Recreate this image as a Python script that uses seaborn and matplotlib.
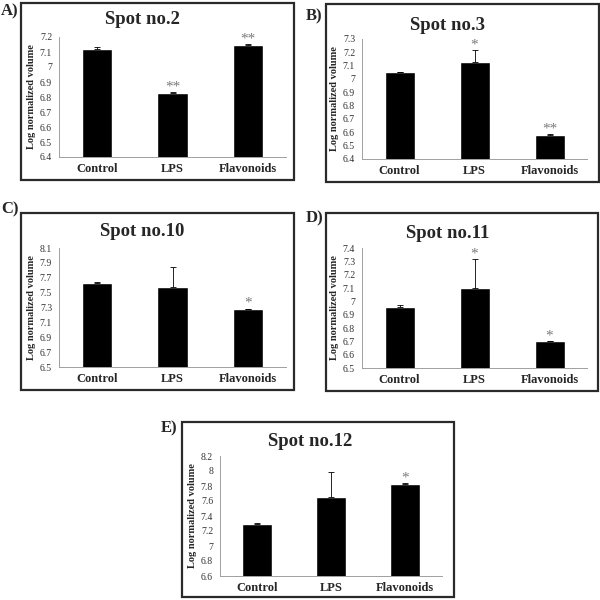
#!/usr/bin/env python3
"""
Five bar panels (spot no.2, 3, 10, 11, 12) - log normalized volume
for Control / LPS / Flavonoids, Excel-like look with framed panels.
"""

import matplotlib
matplotlib.use('Agg')
import matplotlib.pyplot as plt
from matplotlib.patches import Rectangle
from matplotlib.ticker import FuncFormatter, FixedLocator
import numpy as np
import seaborn as sns

groups = ['Control', 'LPS', 'Flavonoids']

spot2_mean = [7.12, 6.83, 7.15]
spot2_err = [0.015, 0.003, 0.005]
spot2_sig = ['', '**', '**']

spot3_mean = [7.05, 7.13, 6.58]
spot3_err = [0.003, 0.09, 0.004]
spot3_sig = ['', '*', '**']

spot10_mean = [7.63, 7.57, 7.28]
spot10_err = [0.01, 0.27, 0.005]
spot10_sig = ['', '', '*']

spot11_mean = [6.96, 7.10, 6.70]
spot11_err = [0.01, 0.22, 0.005]
spot11_sig = ['', '*', '*']

spot12_mean = [7.29, 7.65, 7.83]
spot12_err = [0.02, 0.34, 0.005]
spot12_sig = ['', '', '*']

titles = ['Spot no.2', 'Spot no.3', 'Spot no.10', 'Spot no.11', 'Spot no.12']
letters = ['A)', 'B)', 'C)', 'D)', 'E)']
y_ranges = [(6.4, 7.2, 0.1), (6.4, 7.3, 0.1), (6.5, 8.1, 0.2),
            (6.5, 7.4, 0.1), (6.6, 8.2, 0.2)]

W = H = 600.0


def px_axes(fig, x0, y0, x1, y1):
    return fig.add_axes([x0 / W, 1 - y1 / H, (x1 - x0) / W, (y1 - y0) / H])


def px_frame(fig, x0, y0, x1, y1):
    fig.patches.append(Rectangle((x0 / W, 1 - y1 / H), (x1 - x0) / W, (y1 - y0) / H,
                                 transform=fig.transFigure, fill=False,
                                 edgecolor='#2a2a2a', linewidth=1.6))


def draw_panel(ax, means, errs, sig, yr):
    lo, hi, step = yr
    sns.barplot(x=groups, y=means, color='black', saturation=1, width=0.4,
                ax=ax, errorbar=None)
    # Excel style: only the plus half of the error bar
    ax.errorbar(range(3), means, yerr=[[0, 0, 0], errs], fmt='none',
                ecolor='black', elinewidth=0.6, capsize=2, capthick=0.6)
    for i, s in enumerate(sig):
        if s:
            ax.annotate(s, (i, means[i] + errs[i]), xytext=(0, -1),
                        textcoords='offset points', ha='center', va='bottom',
                        fontsize=11, color='#7a7a7a')
    ax.set_ylim(lo, hi)
    ax.set_xlim(-0.5, 2.5)
    ticks = np.round(np.arange(lo, hi + step / 2, step), 2)
    ax.yaxis.set_major_locator(FixedLocator(ticks))
    ax.yaxis.set_major_formatter(FuncFormatter(lambda v, p: '{:g}'.format(round(v, 2))))
    ax.xaxis.set_minor_locator(FixedLocator([-0.5, 0.5, 1.5, 2.5]))
    ax.tick_params(axis='y', direction='out', length=3, width=0.6, color='#a0a0a0',
                   labelsize=7, labelcolor='#333333', pad=2)
    ax.tick_params(axis='x', which='major', length=0, labelsize=9, pad=4)
    ax.tick_params(axis='x', which='minor', direction='out', length=3, width=0.6,
                   color='#a0a0a0')
    for lab in ax.get_xticklabels():
        lab.set_fontweight('bold')
    for side in ['top', 'right']:
        ax.spines[side].set_visible(False)
    for side in ['left', 'bottom']:
        ax.spines[side].set_color('#a0a0a0')
        ax.spines[side].set_linewidth(0.7)
    ax.set_ylabel('Log normalized volume', fontsize=7.5, fontweight='bold', labelpad=3)
    ax.set_xlabel('')


sns.set_style('white')
plt.rcParams['font.family'] = ['Liberation Serif', 'DejaVu Serif']

fig = plt.figure(figsize=(6, 6), dpi=100)

# pixel boxes: frame, axes, title centre, letter position
frames = [(21, 3, 294, 180), (326, 4, 599, 182), (21, 213, 294, 390),
          (326, 213, 598, 391), (182, 422, 454, 597)]
axes_px = [(59, 37, 286, 157), (362, 39, 587, 159), (59, 248, 286, 367),
           (362, 248, 587, 368), (220, 456, 442, 576)]
title_px = [(142, 20), (448, 25), (142, 232), (448, 233), (310, 442)]
letter_px = [(1, 11), (306, 16), (1, 209), (306, 218), (161, 428)]

data = [(spot2_mean, spot2_err, spot2_sig), (spot3_mean, spot3_err, spot3_sig),
        (spot10_mean, spot10_err, spot10_sig), (spot11_mean, spot11_err, spot11_sig),
        (spot12_mean, spot12_err, spot12_sig)]

for k in range(5):
    px_frame(fig, *frames[k])
    ax = px_axes(fig, *axes_px[k])
    draw_panel(ax, *data[k], y_ranges[k])
    tx, ty = title_px[k]
    fig.text(tx / W, 1 - ty / H, titles[k], ha='center', va='center',
             fontsize=13.5, fontweight='bold')
    lx, ly = letter_px[k]
    fig.text(lx / W, 1 - ly / H, letters[k], ha='left', va='center',
             fontsize=12, fontweight='bold')

fig.savefig('out.png', dpi=100, facecolor='white')
